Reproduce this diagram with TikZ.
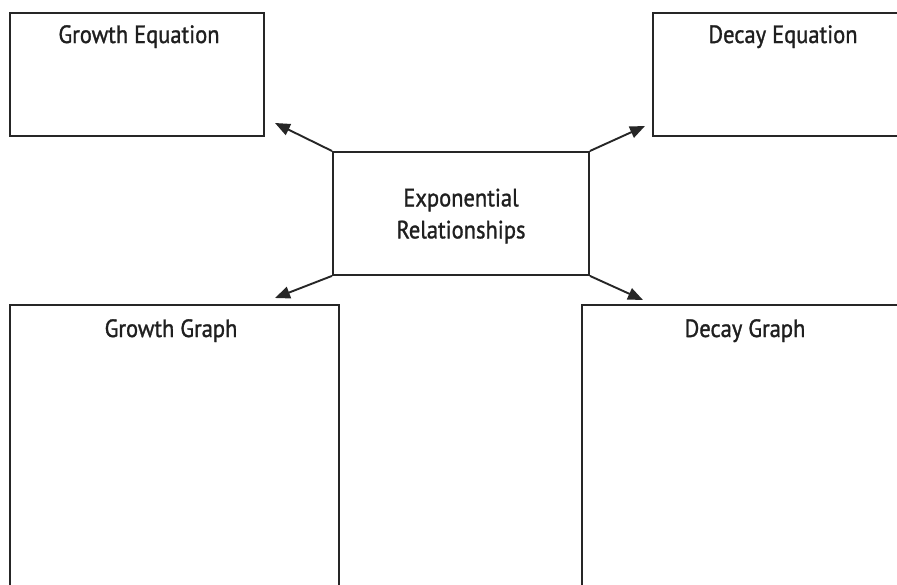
\documentclass[tikz,border=0pt]{standalone}
\usepackage{fontspec}
\setmainfont[FakeStretch=0.9, FakeBold=1.2]{PT Sans}
\usetikzlibrary{arrows.meta}
\begin{document}
\begin{tikzpicture}[x=1pt,y=-1pt,
  box/.style={draw=black!85, line width=1.9pt, inner sep=0pt, anchor=north west},
  lbl/.style={font=\fontsize{25}{32}\selectfont, text=black!88, anchor=base},
  link/.style={draw=black!85, line width=1.9pt,
    -{Triangle[length=15pt,width=12pt]}, shorten >=0pt}]
  \useasboundingbox (0,0) rectangle (897,584);
  \clip (0,0) rectangle (897,584);
  \fill[white] (0,0) rectangle (897,584);

  % outer boxes (the right and lower ones run past the page edge)
  \node[box, minimum width=254pt, minimum height=123pt] (geq) at (9,12) {};
  \node[box, minimum width=262pt, minimum height=123pt] (deq) at (652,12) {};
  \node[box, minimum width=329pt, minimum height=300pt] (ggr) at (9,304) {};
  \node[box, minimum width=328pt, minimum height=300pt] (dgr) at (581,304) {};

  % box titles
  \node[lbl] (geqt) at (139,43) {Growth Equation};
  \node[lbl] (deqt) at (783,43) {Decay Equation};
  \node[lbl] (ggrt) at (171,337) {Growth Graph};
  \node[lbl] (dgrt) at (745,337) {Decay Graph};

  % central box
  \node[box, minimum width=256pt, minimum height=123pt] (ctr) at (332,151) {};
  \node[font=\fontsize{25}{32}\selectfont, text=black!88, align=center]
    (ctrt) at (461,216) {Exponential\\Relationships};

  % arrow tips
  \coordinate (tgeq) at (275,123);
  \coordinate (tdeq) at (645,126);
  \coordinate (tggr) at (275,298);
  \coordinate (tdgr) at (643,300);

  \draw[link] (ctr.north west) -- (tgeq);
  \draw[link] (ctr.north east) -- (tdeq);
  \draw[link] (ctr.south west) -- (tggr);
  \draw[link] (ctr.south east) -- (tdgr);
\end{tikzpicture}
\end{document}
